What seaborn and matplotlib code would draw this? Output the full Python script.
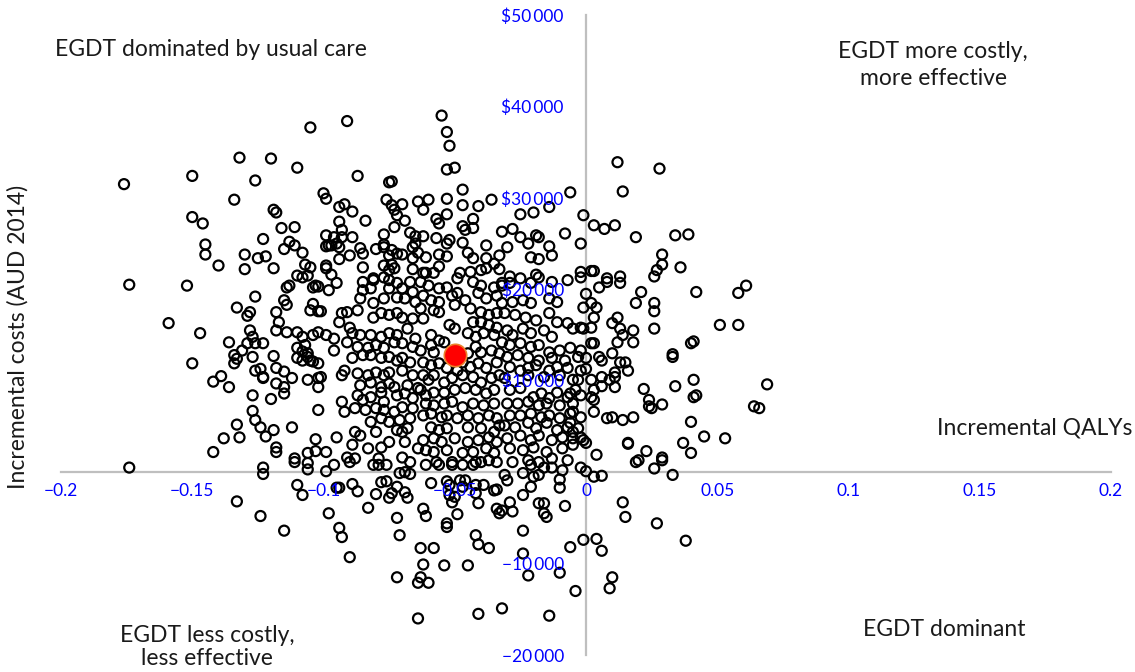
import matplotlib
matplotlib.use("Agg")
import matplotlib.pyplot as plt
import numpy as np
import pandas as pd
import seaborn as sns

# ---- bootstrap replicates: (incremental QALY, incremental cost AUD) ----
upper_left_far = [(-0.105,37700),(-0.132,34400),(-0.120,34300),(-0.110,33300),(-0.150,32400),(-0.126,31900),(-0.176,31500),(-0.134,29800),(-0.100,30500),(-0.099,29900),(-0.119,28700),(-0.118,28400),(-0.150,27900),(-0.146,27200),(-0.116,26700),(-0.111,26800),(-0.099,25900),(-0.123,25500),(-0.113,25200),(-0.145,24900),(-0.111,24800),(-0.099,24700),(-0.098,24800),(-0.115,24400),(-0.145,23800),(-0.108,24000),(-0.130,23800),(-0.125,23400),(-0.122,23600),(-0.140,22600),(-0.107,22700),(-0.105,22400),(-0.099,22600),(-0.099,22300),(-0.130,22200),(-0.119,22300),(-0.110,21500),(-0.106,21500),(-0.108,21300)]

upper_left_near = [(-0.091,38400),(-0.055,39000),(-0.053,37200),(-0.052,35700),(-0.053,33100),(-0.050,33300),(-0.087,32400),(-0.075,31700),(-0.074,31800),(-0.047,30900),(-0.036,29800),(-0.053,29900),(-0.076,29800),(-0.070,29300),(-0.064,29600),(-0.060,29800),(-0.092,29300),(-0.094,29000),(-0.074,29200),(-0.073,28700),(-0.089,28500),(-0.062,28700),(-0.047,29200),(-0.041,29100),(-0.053,28200),(-0.072,28100),(-0.025,28200),(-0.020,28400),(-0.014,29000),(-0.057,27700),(-0.056,27200),(-0.094,27400),(-0.084,27500),(-0.069,27500),(-0.043,27700),(-0.047,26900),(-0.046,26500),(-0.043,26700),(-0.073,26800),(-0.093,26500),(-0.067,26200),(-0.065,25800),(-0.062,25800),(-0.032,26300),(-0.028,26600),(-0.077,26000),(-0.096,25700),(-0.093,25700),(-0.089,25700),(-0.057,25600),(-0.052,25400),(-0.053,25000),(-0.047,25100),(-0.025,25700),(-0.019,25900),(-0.018,25700),(-0.097,24800),(-0.094,24600),(-0.095,25000),(-0.077,24900),(-0.074,24300),(-0.072,23900),(-0.075,23700),(-0.077,24600),(-0.065,25000),(-0.066,24600),(-0.064,24000),(-0.061,23500),(-0.086,24500),(-0.085,23900),(-0.080,24400),(-0.038,24800),(-0.030,24600),(-0.022,25000),(-0.014,24700),(-0.045,24000),(-0.090,23700),(-0.094,23300),(-0.056,23800),(-0.053,23600),(-0.070,23800),(-0.066,23400),(-0.043,23400),(-0.038,23400),(-0.035,22800),(-0.033,23700),(-0.021,23500),(-0.018,23300),(-0.085,22400),(-0.077,22600),(-0.074,22700),(-0.075,22100),(-0.073,22300),(-0.066,22200),(-0.062,21800),(-0.061,21800),(-0.058,21800),(-0.056,22500),(-0.048,21800),(-0.044,21900),(-0.040,22100),(-0.038,22300),(-0.033,22200),(-0.029,21400),(-0.019,21600),(-0.097,21600),(-0.081,21000)]

upper_right_top = [(0.012,33900),(0.028,33200),(0.014,30700),(-0.006,30600),(-0.001,28100),(0.003,27000),(0.007,26600),(0.011,27000),(-0.008,26100),(0.019,25700),(0.034,25900),(0.039,26000),(-0.013,23700),(-0.002,25000),(0.029,23800),(0.029,22700),(0.027,22100),(0.026,21400),(0.036,22400),(-0.002,21900),(0.002,22000),(0.003,22000),(0.008,21200),(0.013,21400)]

upper_right_mid = [(0.061,20400),(0.058,19600),(0.042,19700),(0.021,19700),(0.019,18500),(0.026,18500),(0.026,17600),(0.005,20200),(0.008,20800),(0.013,20700),(0.000,19500),(-0.001,18000),(0.002,18500),(0.004,18000),(0.003,16900),(0.002,15800),(-0.001,15700),(0.012,16900),(0.010,16300),(0.013,15700),(0.014,15000),(0.012,14200),(0.018,15500),(0.018,14200),(0.026,15700),(0.051,16100),(0.058,16100),(0.040,14100),(0.041,14300),(0.033,12900),(0.033,12600),(0.002,14100),(0.003,14100),(-0.002,13300),(0.000,12500),(0.005,12600),(0.006,12200),(0.010,13000),(0.013,12000),(0.015,12000),(0.016,11100),(0.011,10900),(0.006,10400),(0.009,10100),(0.011,10400),(0.000,11300),(0.002,10100),(0.006,9400),(0.003,9000),(0.002,8200),(0.003,7900),(0.003,6600),(0.011,9300),(0.022,9100),(0.034,9400),(0.041,10100),(0.024,7900),(0.025,7000),(0.024,7200),(0.029,7400),(0.041,8200),(0.042,8400),(0.069,9600),(0.064,7200),(0.066,7000),(0.008,5900),(0.010,6000),(0.014,5700),(0.018,6000),(0.040,5500),(0.045,3900),(0.053,3700),(0.037,3200),(0.040,2100),(0.016,3200),(0.016,3100),(0.023,2300),(0.029,1600),(0.004,1900),(0.020,1300),(-0.001,3500),(0.000,3200),(-0.002,3800),(-0.005,4400),(-0.005,6600),(-0.006,5400),(-0.007,8200),(-0.004,9000),(-0.005,10100)]

lower_right = [(-0.002,500),(0.000,100),(0.003,-500),(0.006,-400),(0.019,1100),(0.026,400),(0.029,1300),(0.033,-300),(-0.009,200),(-0.013,500),(-0.010,-800),(-0.010,-1700),(-0.008,-3700),(0.014,-3300),(0.015,-4900),(0.027,-5600),(0.038,-7500),(-0.001,-7400),(0.004,-7300),(0.006,-8600),(-0.006,-8200),(-0.010,-11000),(0.010,-11500),(0.009,-12700),(-0.004,-13000),(-0.014,-15700)]

lower_middle = [(-0.096,800),(-0.090,1100),(-0.081,800),(-0.079,800),(-0.067,1100),(-0.061,800),(-0.057,1100),(-0.056,800),(-0.051,800),(-0.047,800),(-0.043,800),(-0.040,1100),(-0.037,1300),(-0.021,800),(-0.016,500),(-0.071,-100),(-0.069,0),(-0.067,-200),(-0.078,-1100),(-0.076,-1000),(-0.089,-1300),(-0.087,-2100),(-0.095,-1700),(-0.094,-1700),(-0.080,-2400),(-0.075,-2800),(-0.074,-2300),(-0.072,-1600),(-0.068,-2800),(-0.069,-2200),(-0.059,-1200),(-0.053,-1000),(-0.052,-1400),(-0.048,-900),(-0.046,-900),(-0.047,-1600),(-0.052,-2500),(-0.050,-2700),(-0.051,-3300),(-0.042,-1400),(-0.039,-1400),(-0.042,-2300),(-0.041,-3400),(-0.035,-2000),(-0.034,-1900),(-0.030,-900),(-0.031,-300),(-0.024,-100),(-0.020,-500),(-0.018,-300),(-0.021,-1600),(-0.024,-2500),(-0.018,-3400),(-0.016,-3400),(-0.016,-4500),(-0.015,-4900),(-0.034,-4000),(-0.032,-4200),(-0.033,-4500),(-0.029,-3300),(-0.028,-4300),(-0.083,-3900),(-0.072,-5000),(-0.062,-4000),(-0.061,-4800),(-0.049,-4600),(-0.053,-5600),(-0.053,-6000),(-0.094,-6100),(-0.093,-7100),(-0.071,-6900),(-0.042,-6900),(-0.041,-7900),(-0.037,-8300),(-0.024,-6400),(-0.063,-8300),(-0.058,-8300),(-0.090,-9300),(-0.062,-10100),(-0.054,-10200),(-0.045,-10200),(-0.024,-8900),(-0.022,-11300),(-0.072,-11500),(-0.063,-11500),(-0.064,-12100),(-0.060,-12100),(-0.064,-16000),(-0.041,-15500),(-0.032,-14900)]

lower_left = [(-0.174,500),(-0.123,500),(-0.123,-200),(-0.111,1100),(-0.106,1000),(-0.106,300),(-0.099,100),(-0.110,-1400),(-0.108,-2500),(-0.133,-3200),(-0.124,-4800),(-0.115,-6400),(-0.098,-4500)]

left_middle = [(-0.174,20500),(-0.152,20400),(-0.126,19200),(-0.133,18000),(-0.128,17500),(-0.129,17100),(-0.159,16300),(-0.147,15200),(-0.136,14200),(-0.128,15500),(-0.127,14800),(-0.129,14100),(-0.131,13300),(-0.126,14100),(-0.123,14100),(-0.134,12800),(-0.133,12400),(-0.134,11900),(-0.127,12600),(-0.150,11900),(-0.142,9900),(-0.139,10500),(-0.136,9300),(-0.126,11100),(-0.124,11300),(-0.123,10400),(-0.123,10300),(-0.119,12700),(-0.118,11400),(-0.115,11000),(-0.112,10300),(-0.118,9700),(-0.115,9300),(-0.115,8600),(-0.127,8400),(-0.120,8000),(-0.127,6700),(-0.126,5700),(-0.124,4900),(-0.122,3900),(-0.119,4600),(-0.133,5200),(-0.138,3700),(-0.132,3800),(-0.142,2200),(-0.118,2200),(-0.118,2700),(-0.112,4900),(-0.103,3600),(-0.103,2300),(-0.099,2200),(-0.111,1500),(-0.106,2100),(-0.102,6800),(-0.118,17500),(-0.117,16400),(-0.118,15500),(-0.115,18800),(-0.114,18300),(-0.114,20200),(-0.113,20400),(-0.114,15300),(-0.110,15300),(-0.108,14800),(-0.110,13600),(-0.107,13900),(-0.108,12200),(-0.106,12600),(-0.105,12200),(-0.104,12100),(-0.102,11900),(-0.105,17700),(-0.104,18400),(-0.102,17600),(-0.101,17600),(-0.104,20200),(-0.103,20400),(-0.102,20300),(-0.098,19900),(-0.104,15000),(-0.102,15300),(-0.099,15000),(-0.106,10100),(-0.102,10300),(-0.101,10400),(-0.102,9300),(-0.110,12500),(-0.108,13200),(-0.106,13000)]

core_left = [(-0.095,20700),(-0.085,20800),(-0.081,21200),(-0.077,21300),(-0.075,21000),(-0.072,20700),(-0.067,20800),(-0.085,19900),(-0.082,20100),(-0.075,20100),(-0.070,20100),(-0.066,19700),(-0.086,19000),(-0.081,18500),(-0.077,19000),(-0.072,19100),(-0.069,19000),(-0.065,18600),(-0.093,17400),(-0.091,17500),(-0.087,17700),(-0.094,16400),(-0.081,16900),(-0.078,17400),(-0.075,17200),(-0.072,17400),(-0.070,16900),(-0.066,16800),(-0.090,15800),(-0.089,15200),(-0.086,15000),(-0.082,15000),(-0.078,14800),(-0.075,15200),(-0.072,15000),(-0.068,15700),(-0.065,14600),(-0.096,14600),(-0.096,13300),(-0.091,14200),(-0.087,13700),(-0.083,13600),(-0.080,13900),(-0.077,13600),(-0.073,14200),(-0.070,14100),(-0.066,13700),(-0.089,12500),(-0.085,12800),(-0.082,12800),(-0.078,12500),(-0.075,12600),(-0.072,12200),(-0.070,12500),(-0.067,12000),(-0.092,11100),(-0.093,10600),(-0.087,10800),(-0.083,10600),(-0.080,10900),(-0.077,10600),(-0.075,10900),(-0.070,11100),(-0.066,10600),(-0.086,9500),(-0.082,9800),(-0.078,9300),(-0.075,9700),(-0.073,9300),(-0.068,9500),(-0.064,9200),(-0.087,8400),(-0.085,7900),(-0.082,8200),(-0.078,8700),(-0.077,7700),(-0.072,8400),(-0.069,8600),(-0.066,8100),(-0.093,7700),(-0.092,6600),(-0.088,7000),(-0.084,6800),(-0.080,7000),(-0.077,6800),(-0.073,6600),(-0.070,7100),(-0.066,7000),(-0.082,5500),(-0.078,5900),(-0.075,5500),(-0.071,5700),(-0.067,5900),(-0.088,4400),(-0.086,4000),(-0.080,4400),(-0.072,4600),(-0.070,4400),(-0.068,4800),(-0.095,3800),(-0.089,3000),(-0.083,2600),(-0.078,2700),(-0.075,3300),(-0.069,3300),(-0.064,2600),(-0.091,1600),(-0.088,1500),(-0.079,1500),(-0.076,800),(-0.070,1600)]

core_centre = [(-0.063,20800),(-0.060,20400),(-0.056,20100),(-0.053,20200),(-0.049,21200),(-0.043,20800),(-0.040,20400),(-0.035,20200),(-0.032,20700),(-0.062,19300),(-0.059,18800),(-0.056,18600),(-0.051,19300),(-0.049,19600),(-0.046,18800),(-0.041,19600),(-0.038,19000),(-0.034,19300),(-0.063,17900),(-0.062,16800),(-0.058,17700),(-0.056,17500),(-0.050,18300),(-0.044,17900),(-0.040,17500),(-0.037,17200),(-0.034,17400),(-0.052,16100),(-0.050,15700),(-0.043,16400),(-0.040,16400),(-0.037,16100),(-0.034,15800),(-0.059,15000),(-0.056,14400),(-0.059,13900),(-0.054,14200),(-0.045,15200),(-0.042,14800),(-0.039,15200),(-0.035,15000),(-0.063,13300),(-0.058,13100),(-0.045,13000),(-0.042,13700),(-0.040,13100),(-0.036,13300),(-0.033,13000),(-0.062,12000),(-0.059,11700),(-0.056,11900),(-0.053,11400),(-0.049,11100),(-0.047,12000),(-0.044,11500),(-0.041,11900),(-0.038,11400),(-0.034,12000),(-0.062,10600),(-0.060,10100),(-0.058,10600),(-0.054,9800),(-0.051,10300),(-0.047,10600),(-0.043,10400),(-0.040,9800),(-0.036,10300),(-0.033,10600),(-0.063,9000),(-0.061,8400),(-0.058,8700),(-0.054,8700),(-0.050,9000),(-0.046,9200),(-0.042,9000),(-0.038,8600),(-0.035,9000),(-0.061,7500),(-0.058,7300),(-0.054,7500),(-0.051,7700),(-0.047,7100),(-0.043,7500),(-0.039,7300),(-0.035,7500),(-0.062,6200),(-0.059,6400),(-0.055,6000),(-0.053,6200),(-0.049,5900),(-0.045,6200),(-0.041,5900),(-0.037,6200),(-0.034,5900),(-0.059,4900),(-0.056,4600),(-0.053,4800),(-0.045,4900),(-0.040,4800),(-0.035,4400),(-0.033,5100),(-0.062,3500),(-0.058,3700),(-0.055,3300),(-0.050,3700),(-0.045,3300),(-0.041,3500),(-0.037,3800),(-0.034,3300),(-0.061,2400),(-0.058,2200),(-0.053,2400),(-0.047,2100),(-0.043,2200),(-0.038,2600),(-0.035,2100),(-0.051,1100),(-0.042,1100),(-0.034,1100)]

core_right = [(-0.032,20400),(-0.029,20700),(-0.025,21200),(-0.021,20700),(-0.018,21300),(-0.013,20800),(-0.007,21000),(-0.002,21300),(-0.032,18500),(-0.028,18600),(-0.024,18800),(-0.021,18500),(-0.014,19000),(-0.011,18600),(-0.031,17400),(-0.027,17200),(-0.023,16900),(-0.019,16600),(-0.014,17400),(-0.011,16400),(-0.007,16300),(-0.002,15800),(-0.030,15500),(-0.028,15000),(-0.024,15700),(-0.021,15200),(-0.016,15500),(-0.013,14800),(-0.005,15700),(-0.032,14200),(-0.029,13900),(-0.025,14100),(-0.021,13700),(-0.018,13900),(-0.014,13100),(-0.010,13300),(-0.006,13600),(-0.030,12600),(-0.026,12800),(-0.022,12500),(-0.018,12200),(-0.013,12500),(-0.008,12200),(-0.003,12600),(-0.029,11500),(-0.025,11100),(-0.022,11400),(-0.019,11700),(-0.014,11100),(-0.011,11500),(-0.007,11400),(-0.002,11100),(-0.031,10300),(-0.022,10600),(-0.016,10400),(-0.010,10600),(-0.003,10100),(-0.029,9000),(-0.025,9200),(-0.020,8200),(-0.017,8600),(-0.014,8100),(-0.011,8700),(-0.006,8600),(-0.002,8400),(-0.030,7500),(-0.026,7500),(-0.022,7700),(-0.018,7300),(-0.015,7500),(-0.010,7300),(-0.005,7500),(-0.029,6200),(-0.025,6200),(-0.021,6400),(-0.017,6000),(-0.014,6200),(-0.010,5900),(-0.006,6400),(-0.002,6000),(-0.031,5100),(-0.027,4900),(-0.022,5400),(-0.019,4800),(-0.015,5400),(-0.011,4600),(-0.007,4900),(-0.003,4800),(-0.030,3700),(-0.025,4000),(-0.021,3500),(-0.018,4000),(-0.013,3500),(-0.009,3800),(-0.005,3700),(-0.029,2600),(-0.024,2400),(-0.020,2700),(-0.015,2200),(-0.009,2600),(-0.005,3000),(-0.028,1100),(-0.022,1300),(-0.018,1100),(-0.013,1500),(-0.007,1300)]

# mean incremental result (red point)
mean_qaly = -0.050
mean_cost = 12800

x_ticks = [-0.2, -0.15, -0.1, -0.05, 0, 0.05, 0.1, 0.15, 0.2]
x_tick_labels = ["\u22120.2", "\u22120.15", "\u22120.1", "\u22120.05", "0", "0.05", "0.1", "0.15", "0.2"]
y_ticks = [-20000, -10000, 0, 10000, 20000, 30000, 40000, 50000]
y_tick_labels = ["\u221220\u2009000", "\u221210\u2009000", "", "$10\u2009000", "$20\u2009000", "$30\u2009000", "$40\u2009000", "$50\u2009000"]

regions = [upper_left_far, upper_left_near, upper_right_top, upper_right_mid, lower_right,
           lower_middle, lower_left, left_middle, core_left, core_centre, core_right]
pts = [p for r in regions for p in r]
df = pd.DataFrame(pts, columns=["qaly", "cost"])

sns.set_style("white")
plt.rcParams["font.family"] = ["Lato", "DejaVu Sans"]

W, H = 1135, 672
fig = plt.figure(figsize=(W / 100, H / 100), dpi=100)
ax = fig.add_axes([61 / W, 17 / H, 1050 / W, 640 / H])

sns.scatterplot(data=df, x="qaly", y="cost", ax=ax, marker="o", s=52,
                facecolors="none", edgecolor="black", linewidth=1.6, legend=False, zorder=1)
sns.scatterplot(x=[mean_qaly], y=[mean_cost], ax=ax, marker="o", s=260,
                color="#FF0000", edgecolor="#E9822B", linewidth=1.2, legend=False, zorder=3)

ax.set_xlim(-0.2, 0.2)
ax.set_ylim(-20000, 50000)
ax.set_xlabel("")
ax.set_ylabel("")
for side in ["top", "right"]:
    ax.spines[side].set_visible(False)
ax.spines["left"].set_position(("data", 0))
ax.spines["bottom"].set_position(("data", 0))
for side in ["left", "bottom"]:
    ax.spines[side].set_color("#BFBFBF")
    ax.spines[side].set_linewidth(1.6)
    ax.spines[side].set_zorder(0.5)

ax.set_xticks(x_ticks)
ax.set_xticklabels(x_tick_labels, color="#0000FF", fontsize=12.5)
ax.set_yticks(y_ticks)
ax.set_yticklabels(y_tick_labels, color="#0000FF", fontsize=12.5)
ax.tick_params(axis="both", length=0)
ax.tick_params(axis="x", pad=8)
ax.tick_params(axis="y", pad=16)
ax.set_axisbelow(False)
ax.xaxis.set_zorder(4)
ax.yaxis.set_zorder(4)
ax.patch.set_alpha(0)

txt = dict(color="#1A1A1A", fontsize=16.5)
fig.text(55 / W, 1 - 50 / H, "EGDT dominated by usual care", ha="left", va="center", **txt)
fig.text(933 / W, 1 - 65 / H, "EGDT more costly,\nmore effective", ha="center", va="center", linespacing=1.3, **txt)
fig.text(1132 / W, 1 - 428 / H, "Incremental QALYs", ha="right", va="center", **txt)
fig.text(207 / W, 1 - 647 / H, "EGDT less costly,\nless effective", ha="center", va="center", linespacing=1.15, **txt)
fig.text(944 / W, 1 - 630 / H, "EGDT dominant", ha="center", va="center", **txt)
fig.text(18 / W, 1 - 337 / H, "Incremental costs (AUD 2014)", ha="center", va="center", rotation=90, **txt)

fig.savefig("out.png", dpi=100, facecolor="white")
